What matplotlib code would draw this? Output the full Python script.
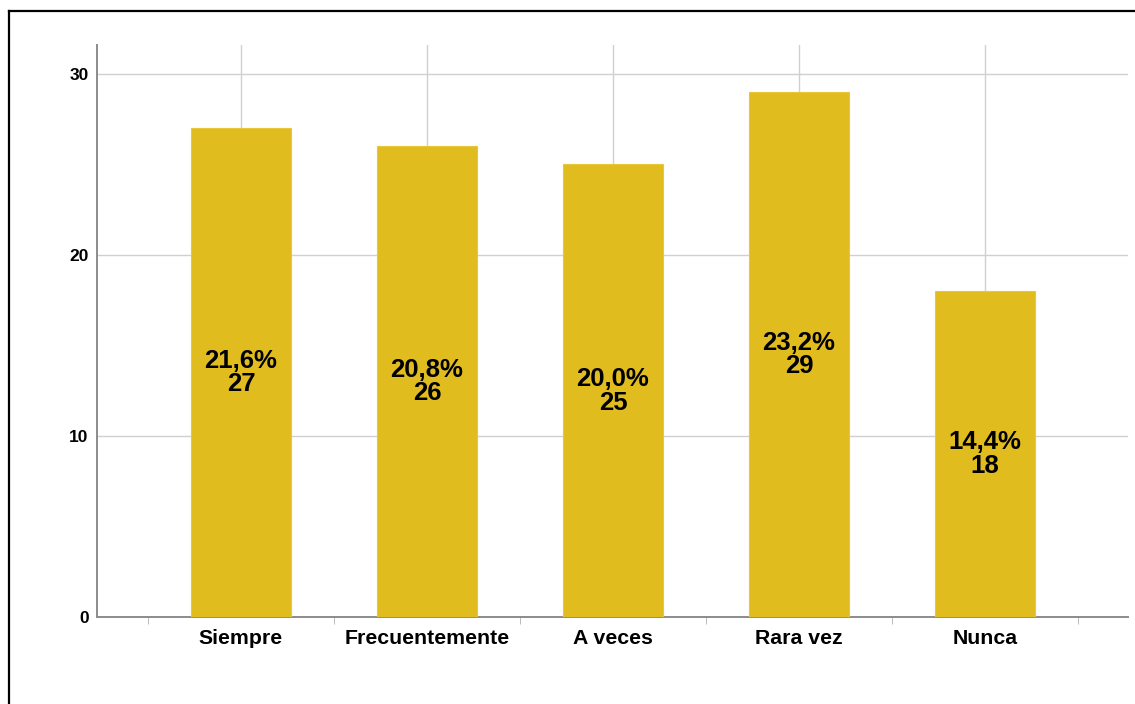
import matplotlib.pyplot as plt
from matplotlib.lines import Line2D

# frequency of answers per category
categorias = ["Siempre", "Frecuentemente", "A veces", "Rara vez", "Nunca"]
frecuencias = [27, 26, 25, 29, 18]
porcentajes = ["21,6%", "20,8%", "20,0%", "23,2%", "14,4%"]

plt.rcParams['font.family'] = ['Liberation Sans', 'DejaVu Sans']

fig = plt.figure(figsize=(11.35, 7.04), dpi=100)
ax = fig.add_axes([97 / 1135, 1 - 617 / 704, (1128 - 97) / 1135, (617 - 45) / 704])

# outer frame: top and left edges of the chart border
fy = 1 - 10.5 / 704
fx = 8.5 / 1135
fig.add_artist(Line2D([fx, 1.0], [fy, fy], transform=fig.transFigure,
                      color='black', linewidth=1.6))
fig.add_artist(Line2D([fx, fx], [0.0, fy], transform=fig.transFigure,
                      color='black', linewidth=1.6))

x = range(len(categorias))
ax.bar(x, frecuencias, width=0.535, color='#E1BC1F', edgecolor='#E8C83A',
       linewidth=0.8, zorder=3)

for i, (n, p) in enumerate(zip(frecuencias, porcentajes)):
    ax.text(i, n / 2, f"{p}\n{n}", ha='center', va='center', fontsize=18.5,
            fontweight='bold', linespacing=0.98, zorder=4)

ax.set_xlim(-0.774, 4.769)
ax.set_ylim(0, 31.6)
ax.set_yticks([0, 10, 20, 30])
ax.set_xticks(list(x))
ax.set_xticklabels(categorias, fontsize=15.3, fontweight='bold')
ax.set_xticks([i - 0.5 for i in range(6)], minor=True)

ax.grid(True, which='major', color='#D0D0D0', linewidth=1.0, zorder=0)
ax.set_axisbelow(True)
ax.tick_params(axis='x', which='major', length=0, pad=9)
ax.tick_params(axis='x', which='minor', length=5, color='#B0B0B0')
ax.tick_params(axis='y', length=0, pad=6)
for lab in ax.get_yticklabels():
    lab.set_fontweight('bold')
    lab.set_fontsize(12.5)

for s in ['top', 'right']:
    ax.spines[s].set_visible(False)
for s in ['left', 'bottom']:
    ax.spines[s].set_color('#8C8C8C')
    ax.spines[s].set_linewidth(1.4)

fig.savefig('out.png', dpi=100)
